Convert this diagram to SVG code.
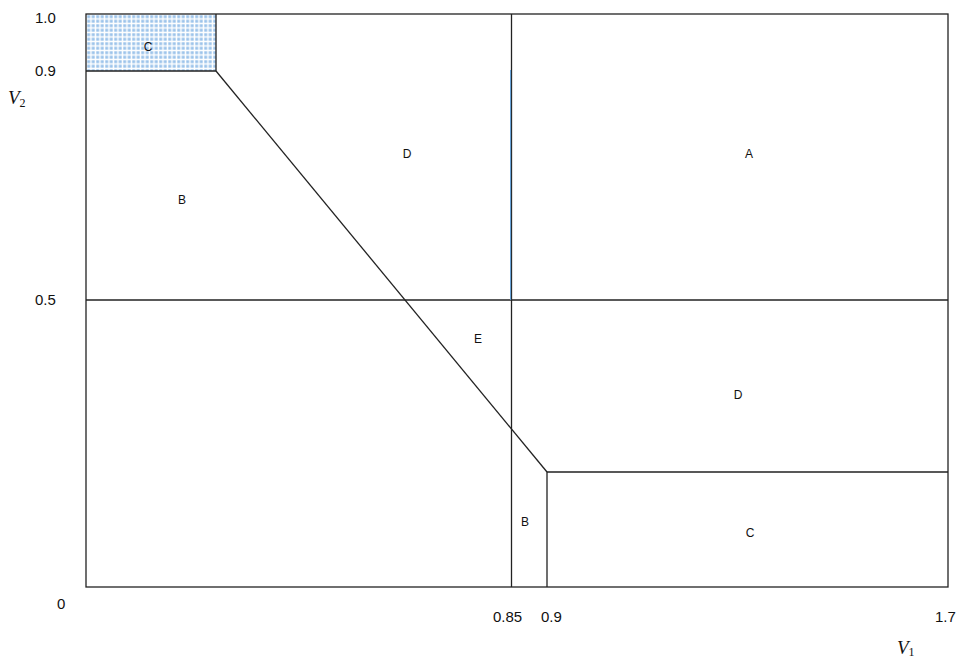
<svg xmlns="http://www.w3.org/2000/svg" width="965" height="660" viewBox="0 0 965 660">
<defs>
<pattern id="dots" x="86" y="14" width="4.5" height="4.5" patternUnits="userSpaceOnUse">
<rect x="1.2" y="1.2" width="3" height="3" fill="#9dc4ea"/>
</pattern>
<style>
.ln{stroke:#222;stroke-width:1.3;fill:none}
.lbl{font-family:"Liberation Sans",Arial,sans-serif;font-size:12px;fill:#111;text-anchor:middle}
.tick{font-family:"Liberation Sans",Arial,sans-serif;font-size:15px;fill:#111}
.ax{font-family:"Liberation Serif","Times New Roman",serif;font-style:italic;font-size:19px;fill:#111}
.sub{font-family:"Liberation Serif","Times New Roman",serif;font-size:12px;font-style:normal}
</style>
</defs>
<rect id="region-C-top" x="86" y="14" width="130" height="57" fill="url(#dots)"/>
<g id="connectors">
<rect class="ln" x="86" y="14" width="862" height="573"/>
<polyline class="ln" points="86,71 216,71 216,14"/>
<line class="ln" x1="216" y1="71" x2="547" y2="472"/>
<line class="ln" x1="86" y1="300" x2="948" y2="300"/>
<line class="ln" x1="511.5" y1="14" x2="511.5" y2="587"/>
<line x1="510.6" y1="70" x2="510.6" y2="300" stroke="#5b9bd5" stroke-width="1"/>
<polyline class="ln" points="547,587 547,472 948,472"/>
</g>
<g id="labels">
<text class="lbl" x="148" y="51">C</text>
<text class="lbl" x="407" y="158">D</text>
<text class="lbl" x="749" y="158">A</text>
<text class="lbl" x="182" y="204">B</text>
<text class="lbl" x="478" y="343">E</text>
<text class="lbl" x="738" y="399">D</text>
<text class="lbl" x="525" y="526">B</text>
<text class="lbl" x="750" y="537">C</text>
</g>
<g id="ticks">
<text class="tick" x="35" y="23">1.0</text>
<text class="tick" x="35" y="76">0.9</text>
<text class="tick" x="35" y="305">0.5</text>
<text class="tick" x="57" y="609">0</text>
<text class="tick" x="493" y="622">0.85</text>
<text class="tick" x="541" y="622">0.9</text>
<text class="tick" x="935" y="622">1.7</text>
</g>
<g id="axis-labels">
<text class="ax" x="8" y="104">V<tspan class="sub" dy="3">2</tspan></text>
<text class="ax" x="897" y="654">V<tspan class="sub" dy="2">1</tspan></text>
</g>
</svg>
